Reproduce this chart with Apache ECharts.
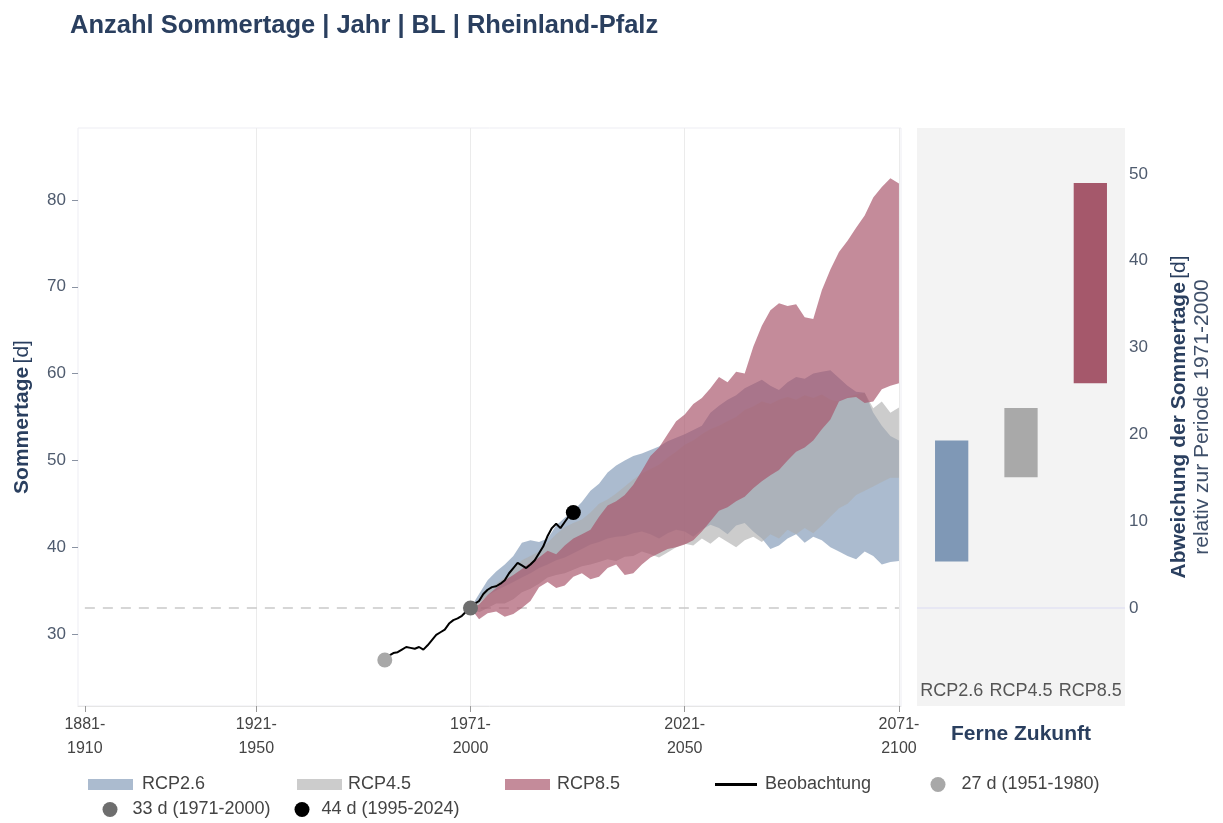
<!DOCTYPE html>
<html><head><meta charset="utf-8">
<script src="https://cdn.jsdelivr.net/npm/echarts@6/dist/echarts.min.js"></script>
<style>html,body{margin:0;padding:0;background:#fff}#c{width:1223px;height:823px}</style>
</head><body><div id="c"></div>
<script>
// ---------------- data ----------------
const xTickValues = [1895.5, 1935.5, 1985.5, 2035.5, 2085.5];
const xTickLabels = ['1881-\n1910', '1921-\n1950', '1971-\n2000', '2021-\n2050', '2071-\n2100'];
const yTickValues = [30, 40, 50, 60, 70, 80];
const yRightTickValues = [0, 10, 20, 30, 40, 50];
const baseline = 33; // Mittel 1971-2000

const obsYears = [1965.5,1966.5,1967.5,1968.5,1969.5,1970.5,1971.5,1972.5,1973.5,1974.5,1975.5,1976.5,1977.5,1978.5,1979.5,1980.5,1981.5,1982.5,1983.5,1984.5,1985.5,1986.5,1987.5,1988.5,1989.5,1990.5,1991.5,1992.5,1993.5,1994.5,1995.5,1996.5,1997.5,1998.5,1999.5,2000.5,2001.5,2002.5,2003.5,2004.5,2005.5,2006.5,2007.5,2008.5,2009.5];
const obsValues = [27.0,27.5,27.8,27.9,28.2,28.5,28.4,28.3,28.5,28.2,28.7,29.3,29.9,30.2,30.5,31.2,31.6,31.8,32.1,32.6,33.0,33.5,33.8,34.6,35.1,35.4,35.5,35.8,36.2,37.0,37.6,38.2,37.9,37.6,38.0,38.5,39.3,40.1,41.3,42.2,42.7,42.2,42.9,43.6,44.0];

const periodNames = ['27 d (1951-1980)', '33 d (1971-2000)', '44 d (1995-2024)'];
const periodYears = [1965.5, 1985.5, 2009.5];
const periodValues = [27, 33, 44];

const bandYears = [1985.5,1987.5,1989.5,1991.5,1993.5,1995.5,1997.5,1999.5,2001.5,2003.5,2005.5,2007.5,2009.5,2011.5,2013.5,2015.5,2017.5,2019.5,2021.5,2023.5,2025.5,2027.5,2029.5,2031.5,2033.5,2035.5,2037.5,2039.5,2041.5,2043.5,2045.5,2047.5,2049.5,2051.5,2053.5,2055.5,2057.5,2059.5,2061.5,2063.5,2065.5,2067.5,2069.5,2071.5,2073.5,2075.5,2077.5,2079.5,2081.5,2083.5,2085.5];
const rcp26Lo = [33,33.5,34.5,35.0,35.5,36.0,36.5,37.0,37.6,38.0,38.5,38.8,39.3,39.8,40.3,40.6,41.0,41.2,41.3,41.6,41.8,41.5,41.0,41.6,42.0,41.8,41.2,42.0,42.6,42.2,41.5,42.5,42.8,41.8,41.0,39.8,40.2,41.0,41.5,40.5,41.2,40.8,40.0,39.5,39.0,38.6,39.5,39.0,38.0,38.3,38.4];
const rcp26Hi = [33,34.6,36.2,37.2,38.0,39.0,40.5,40.8,40.6,41.0,42.5,43.4,44.2,45.2,46.5,47.3,48.6,49.4,50.0,50.5,50.8,51.2,51.6,52.2,52.6,53.0,53.5,54.0,55.5,56.3,57.0,57.5,58.3,58.8,59.3,58.6,58.1,59.0,59.6,59.4,60.0,60.2,60.4,59.5,58.6,57.9,57.8,55.5,54.0,52.8,52.3];
const rcp45Lo = [33,32.5,33.0,33.5,33.5,34.0,34.8,35.2,35.8,36.5,36.8,37.0,37.4,37.8,38.0,38.3,38.6,38.4,38.9,39.0,39.5,39.2,38.8,39.4,40.0,40.4,40.2,41.0,40.4,41.2,40.6,40.0,40.8,41.2,40.6,41.5,41.0,42.0,41.5,42.2,41.6,42.5,43.5,44.5,45.0,46.0,46.5,47.0,47.5,48.0,48.0];
const rcp45Hi = [33,34.0,35.0,35.8,36.5,37.5,38.5,39.0,39.5,40.5,41.5,42.3,42.8,43.2,44.0,45.0,45.5,46.2,47.0,47.8,48.5,49.0,49.5,50.3,51.0,51.8,52.3,53.0,53.6,54.0,54.5,55.0,55.8,56.2,56.8,56.5,57.0,57.3,57.0,57.5,57.2,57.6,57.0,56.8,57.3,57.6,57.8,56.0,56.8,55.5,56.1];
const rcp85Lo = [33,31.7,32.4,32.6,32.0,32.3,33.0,33.8,35.4,36.0,35.3,35.6,36.6,37.0,36.3,36.6,37.6,38.0,36.8,37.0,38.0,38.8,39.3,39.8,40.0,40.3,40.8,41.8,43.0,44.2,44.6,45.3,45.8,46.8,47.6,48.3,48.9,50.0,51.0,51.5,52.3,53.6,54.7,56.8,57.2,57.3,56.6,56.8,58.2,58.6,58.9];
const rcp85Hi = [33,33.4,34.5,35.3,36.2,36.8,37.5,38.2,38.8,39.6,39.2,40.2,41.0,41.5,42.0,43.5,44.8,45.3,46.0,47.2,48.8,50.5,51.5,53.0,54.5,55.3,56.5,57.2,58.3,59.6,59.0,60.2,60.0,63.1,65.5,67.3,68.1,67.8,68.0,66.5,66.3,69.6,72.0,74.0,75.3,76.8,78.2,80.3,81.5,82.5,81.9];

const barCategories = ['RCP2.6', 'RCP4.5', 'RCP8.5'];
const barLo = [5.35, 15.05, 25.9];
const barHi = [19.3, 23.05, 48.95];

// ---------------- styles ----------------
const FONT = 'Liberation Sans, Arial, Helvetica, sans-serif';
const DARK = '#2a3f5f';
const TICKC = '#4f5b6e';
const bandColors = ['rgba(127,152,182,0.66)', 'rgba(172,172,172,0.62)', 'rgba(168,84,106,0.68)'];
const barColors = ['#7f98b6', '#a9a9a9', '#a5586b'];
const pointColors = ['#a8a8a8', '#6e6e6e', '#000000'];
const scenNames = ['RCP2.6', 'RCP4.5', 'RCP8.5'];
const bandLo = [rcp26Lo, rcp45Lo, rcp85Lo];
const bandHi = [rcp26Hi, rcp45Hi, rcp85Hi];

const pxTop = 128, pxBottom = 706, pxMainRight = 901;
const yMin = 30 - (pxBottom - 634) / 8.68;
const yMax = 80 + (200 - pxTop) / 8.68;

const series = [];
series.push({
  name: 'grid', type: 'line', xAxisIndex: 0, yAxisIndex: 0, data: [], silent: true, z: 1,
  markLine: { silent: true, symbol: 'none', label: { show: false }, animation: false, z: 1,
    lineStyle: { color: '#ebebeb', type: 'solid', width: 1 },
    data: xTickValues.slice(1).map(v => ({ xAxis: v })) }
});
series.push({
  name: 'baseline', type: 'line', xAxisIndex: 0, yAxisIndex: 0, silent: true, z: 1,
  symbol: 'none', data: [[xTickValues[0], baseline], [xTickValues[4], baseline]],
  lineStyle: { color: '#c9c9c9', width: 1.5, type: [10, 8] }
});
for (let s = 0; s < 3; s++) {
  series.push({
    name: scenNames[s], type: 'custom', xAxisIndex: 0, yAxisIndex: 0, silent: true, z: 2 + s,
    data: [[bandYears[0], bandLo[s][0]]],
    encode: { x: 0, y: 1 },
    itemStyle: { color: bandColors[s] },
    renderItem: function (params, api) {
      const pts = [];
      for (let i = 0; i < bandYears.length; i++) pts.push(api.coord([bandYears[i], bandHi[s][i]]));
      for (let i = bandYears.length - 1; i >= 0; i--) pts.push(api.coord([bandYears[i], bandLo[s][i]]));
      return { type: 'polygon', shape: { points: pts }, style: { fill: bandColors[s] } };
    }
  });
}
series.push({
  name: 'Beobachtung', type: 'line', xAxisIndex: 0, yAxisIndex: 0, symbol: 'none', z: 10,
  data: obsYears.map((y, i) => [y, obsValues[i]]),
  lineStyle: { color: '#000', width: 2 }, itemStyle: { color: '#000' }
});
for (let p = 0; p < 3; p++) {
  series.push({
    name: periodNames[p], type: 'scatter', xAxisIndex: 0, yAxisIndex: 0, z: 11,
    symbolSize: 15, data: [[periodYears[p], periodValues[p]]],
    itemStyle: { color: pointColors[p], opacity: 1 }
  });
}
series.push({
  name: 'barBase', type: 'bar', stack: 'bars', xAxisIndex: 1, yAxisIndex: 1, barWidth: '48%',
  data: barLo, itemStyle: { color: 'rgba(0,0,0,0)' }, silent: true,
  markLine: { silent: true, symbol: 'none', label: { show: false }, animation: false, z: 1,
    lineStyle: { color: '#e3e3f3', type: 'solid', width: 1.5 }, data: [{ yAxis: 0 }] }
});
series.push({
  name: 'barRange', type: 'bar', stack: 'bars', xAxisIndex: 1, yAxisIndex: 1, barWidth: '48%',
  data: barHi.map((h, i) => ({ value: h - barLo[i], itemStyle: { color: barColors[i] } }))
});

function legend(left, top, name, icon, color, w, h, padLeft) {
  return {
    left: left, top: top, padding: 0, itemWidth: w, itemHeight: h, itemGap: 0, selectedMode: false,
    textStyle: { fontFamily: FONT, fontSize: 18, color: '#444', padding: [0, 0, 0, padLeft] },
    data: [{ name: name, icon: icon, itemStyle: { color: color, borderWidth: 0 } }]
  };
}

const option = {
  animation: false,
  backgroundColor: '#ffffff',
  textStyle: { fontFamily: FONT },
  title: { text: 'Anzahl Sommertage | Jahr | BL | Rheinland-Pfalz', left: 65, top: 8,
    textStyle: { fontFamily: FONT, fontSize: 25.5, fontWeight: 'bold', color: DARK } },
  grid: [
    { left: 78, right: 1223 - pxMainRight, top: pxTop, bottom: 823 - pxBottom, show: true,
      borderColor: '#ededf3', borderWidth: 1, backgroundColor: '#fff' },
    { left: 917, right: 1223 - 1125, top: pxTop, bottom: 823 - pxBottom, show: true,
      borderWidth: 0, backgroundColor: '#f3f3f3' }
  ],
  legend: [
    legend(88, 775.5, 'RCP2.6', 'rect', bandColors[0], 45, 11, 4),
    legend(297, 775.5, 'RCP4.5', 'rect', bandColors[1], 45, 11, 1),
    legend(505, 775.5, 'RCP8.5', 'rect', bandColors[2], 45, 11, 2),
    legend(715, 775.5, 'Beobachtung', 'rect', '#000', 42, 3, 3),
    legend(930.5, 775.5, periodNames[0], 'circle', pointColors[0], 15, 15, 11),
    legend(102.5, 800.5, periodNames[1], 'circle', pointColors[1], 15, 15, 10),
    legend(294.5, 800.5, periodNames[2], 'circle', pointColors[2], 15, 15, 7)
  ],
  xAxis: [
    { type: 'value', gridIndex: 0, min: 1893.9, max: 1895.5 + (pxMainRight - 85) / 4.284,
      axisLine: { show: true, lineStyle: { color: '#e6e6e6' } },
      axisTick: { show: true, length: 6, lineStyle: { color: '#999' }, customValues: xTickValues },
      axisLabel: { customValues: xTickValues, color: '#444', fontSize: 16, lineHeight: 24, margin: 7,
        fontFamily: FONT, formatter: v => xTickLabels[xTickValues.indexOf(v)] || '' },
      splitLine: { show: false } },
    { type: 'category', gridIndex: 1, data: barCategories,
      axisLine: { show: false }, axisTick: { show: false },
      axisLabel: { inside: true, interval: 0, hideOverlap: false, margin: 6, color: '#555', fontSize: 18, fontFamily: FONT },
      name: 'Ferne Zukunft', nameLocation: 'middle', nameGap: 18,
      nameTextStyle: { fontFamily: FONT, fontSize: 21, fontWeight: 'bold', color: DARK } }
  ],
  yAxis: [
    { type: 'value', gridIndex: 0, min: yMin, max: yMax,
      axisLine: { show: false },
      axisTick: { show: true, length: 6, lineStyle: { color: '#8a93a3' }, customValues: yTickValues },
      axisLabel: { customValues: yTickValues, color: TICKC, fontSize: 17, margin: 12, fontFamily: FONT },
      splitLine: { show: false },
      name: '{b|Sommertage} {n|[d]}', nameLocation: 'middle', nameGap: 45, nameRotate: 90,
      nameTextStyle: { rich: {
        b: { fontFamily: FONT, fontSize: 21, fontWeight: 'bold', color: DARK },
        n: { fontFamily: FONT, fontSize: 21, color: DARK } } } },
    { type: 'value', gridIndex: 1, position: 'right', min: yMin - baseline, max: yMax - baseline,
      axisLine: { show: false }, axisTick: { show: false },
      axisLabel: { customValues: yRightTickValues, color: TICKC, fontSize: 17, margin: 4, fontFamily: FONT },
      splitLine: { show: false },
      name: '{b|Abweichung der Sommertage} {n|[d]}\n{s|relativ zur Periode 1971-2000}',
      nameLocation: 'middle', nameGap: 43, nameRotate: 90,
      nameTextStyle: { rich: {
        b: { fontFamily: FONT, fontSize: 21, fontWeight: 'bold', color: DARK, lineHeight: 23 },
        n: { fontFamily: FONT, fontSize: 21, color: DARK, lineHeight: 23 },
        s: { fontFamily: FONT, fontSize: 21, color: '#3e4f69', lineHeight: 23 } } } }
  ],
  series: series
};
const chart = echarts.init(document.getElementById('c'), null, { renderer: 'canvas' });
chart.setOption(option);
</script>
</body></html>
